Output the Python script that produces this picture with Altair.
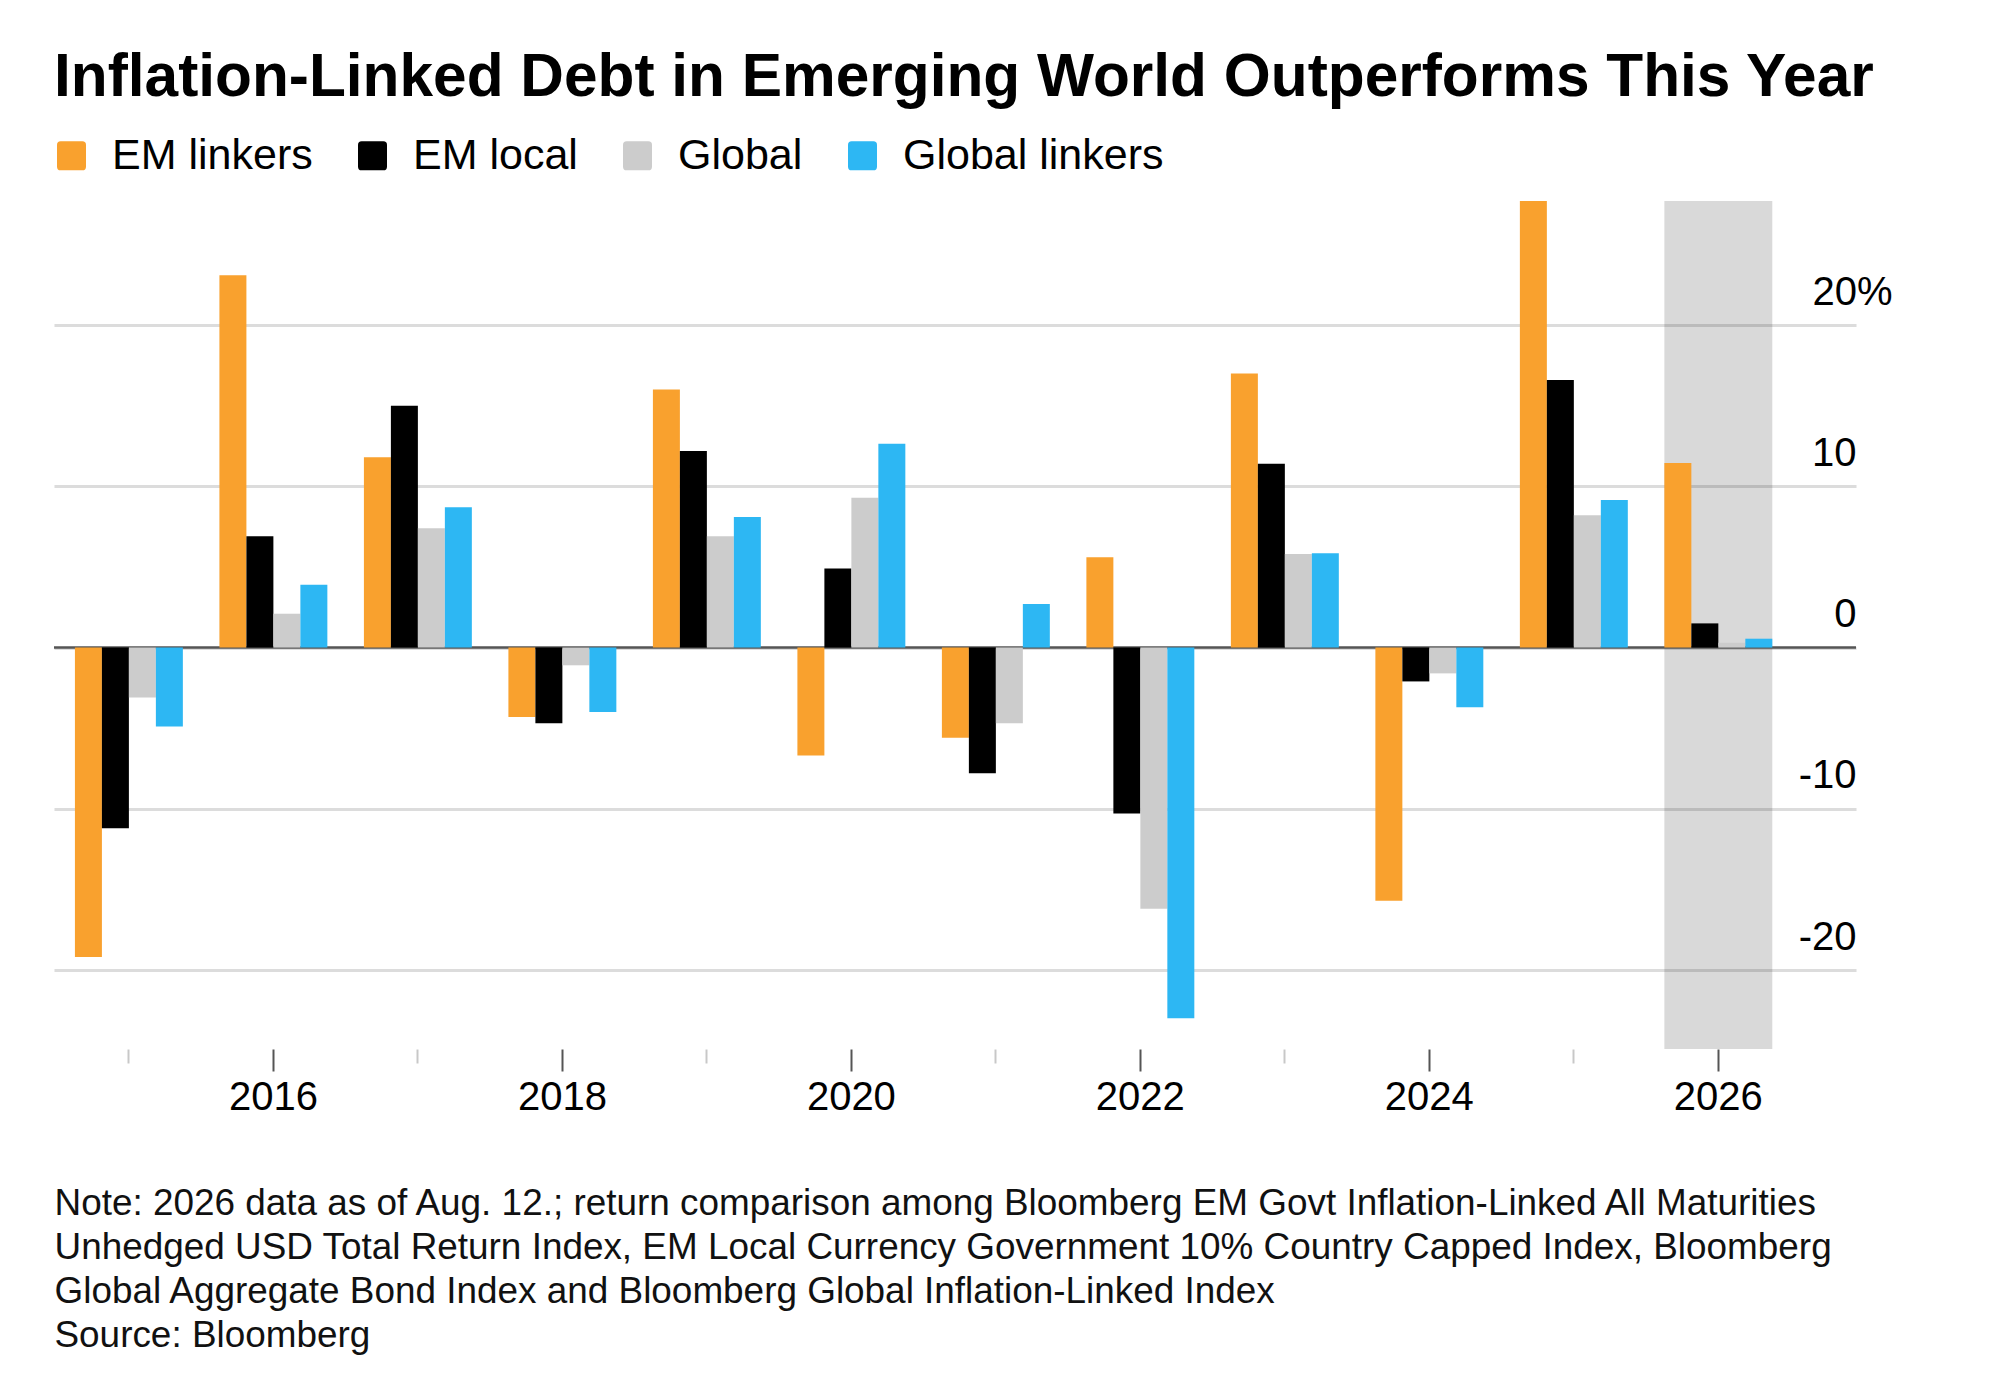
import altair as alt
import pandas as pd

# ---------------- data ----------------
years = list(range(2015, 2027))
series = ["EM linkers", "EM local", "Global", "Global linkers"]
colors = ["#F9A12E", "#000000", "#CCCCCC", "#2DB7F3"]

em_linkers = [-19.2, 23.1, 11.8, -4.3, 16.0, -6.7, -5.6, 5.6, 17.0, -15.7, 27.7, 11.45]
em_local = [-11.2, 6.9, 15.0, -4.7, 12.2, 4.9, -7.8, -10.3, 11.4, -2.1, 16.6, 1.5]
global_agg = [-3.1, 2.1, 7.4, -1.1, 6.9, 9.3, -4.7, -16.2, 5.8, -1.6, 8.2, 0.3]
global_linkers = [-4.9, 3.9, 8.7, -4.0, 8.1, 12.65, 2.7, -23.0, 5.85, -3.7, 9.15, 0.55]

y_ticks = [-20, -10, 0, 10, 20]
y_min, y_max = -24.9, 27.7
highlight_years = [2026]

title_text = "Inflation-Linked Debt in Emerging World Outperforms This Year"
note_lines = [
    "Note: 2026 data as of Aug. 12.; return comparison among Bloomberg EM Govt Inflation-Linked All Maturities",
    "Unhedged USD Total Return Index, EM Local Currency Government 10% Country Capped Index, Bloomberg",
    "Global Aggregate Bond Index and Bloomberg Global Inflation-Linked Index",
    "Source: Bloomberg",
]

FONT = "Liberation Sans"

# ---------------- tables ----------------
rows = []
for name, vals in zip(series, [em_linkers, em_local, global_agg, global_linkers]):
    for yr, v in zip(years, vals):
        rows.append({"year": yr, "series": name, "value": v})
df = pd.DataFrame(rows)

shade_df = pd.DataFrame({"year": highlight_years,
                         "value": [y_min] * len(highlight_years),
                         "value_hi": [y_max] * len(highlight_years)})
zero_df = pd.DataFrame({"zero": [0]})

# ---------------- encodings ----------------
x_scale = alt.Scale(paddingInner=0.253, paddingOuter=0.362, align=0.2)
x_axis = alt.Axis(
    orient="bottom", domain=False, grid=False, ticks=True,
    tickColor={"condition": {"test": "datum.value % 2 == 0", "value": "#555555"}, "value": "#C8C8C8"},
    tickSize={"condition": {"test": "datum.value % 2 == 0", "value": 22}, "value": 14},
    tickWidth=2,
    labelExpr="datum.value % 2 == 0 ? datum.label : ''",
    labelAngle=0, labelFontSize=40, labelFont=FONT, labelColor="#000000", labelPadding=6,
    title=note_lines, titleFont=FONT, titleFontSize=36.9, titleFontWeight="normal",
    titleColor="#111111", titleAnchor="start", titleAlign="left", titleLineHeight=44,
    titlePadding=68,
)
x_enc = alt.X("year:O", scale=x_scale, axis=x_axis)

y_scale = alt.Scale(domain=[y_min, y_max], nice=False, zero=False)
y_axis = alt.Axis(
    orient="right", values=y_ticks, grid=True, gridColor="#DCDCDC", gridWidth=3,
    ticks=False, tickSize=0, domain=False,
    labelExpr="datum.value == 20 ? '20%' : ('' + datum.value)",
    labelAlign="right",
    labelPadding={"condition": {"test": "datum.value == 20", "value": 36}, "value": 0},
    labelBaseline="alphabetic", labelOffset=-21,
    labelFontSize=40, labelFont=FONT, labelColor="#000000", title=None,
)
y_enc = alt.Y("value:Q", scale=y_scale, axis=y_axis)

rounded_square = ("M -0.75,-1 L 0.75,-1 Q 1,-1 1,-0.75 L 1,0.75 Q 1,1 0.75,1 "
                  "L -0.75,1 Q -1,1 -1,0.75 L -1,-0.75 Q -1,-1 -0.75,-1 Z")

shade = alt.Chart(shade_df).mark_bar(color="#000000", opacity=0.15).encode(
    x=x_enc, y=y_enc, y2=alt.Y2("value_hi")
)

zero_rule = alt.Chart(zero_df).mark_rule(color="#555555", strokeWidth=2.5).encode(
    y=alt.Y("zero:Q", scale=y_scale, axis=y_axis)
)

bars = alt.Chart(df).mark_bar().encode(
    x=x_enc,
    xOffset=alt.XOffset("series:N", sort=series, scale=alt.Scale(paddingInner=0, paddingOuter=0)),
    y=y_enc,
    color=alt.Color(
        "series:N", sort=series,
        scale=alt.Scale(domain=series, range=colors),
        legend=alt.Legend(
            title=None, orient="none", legendX=-4, legendY=-67, direction="horizontal",
            symbolType=rounded_square, symbolSize=841, symbolStrokeWidth=0, symbolOpacity=1,
            labelFontSize=43, labelFont=FONT, labelColor="#000000", labelOffset=19,
            labelLimit=0, columnPadding=38,
        ),
    ),
)

chart = alt.layer(shade, zero_rule, bars).properties(
    width=1802, height=848,
    title=alt.TitleParams(text=title_text, anchor="start", frame="group", fontSize=60.4,
                          font=FONT, fontWeight="bold", color="#000000", offset=26),
    padding={"left": 42, "top": 39, "right": 10, "bottom": 10},
    background="white",
).configure_view(stroke=None)

chart.save("out.html", embed_options={"renderer": "svg", "actions": False})
